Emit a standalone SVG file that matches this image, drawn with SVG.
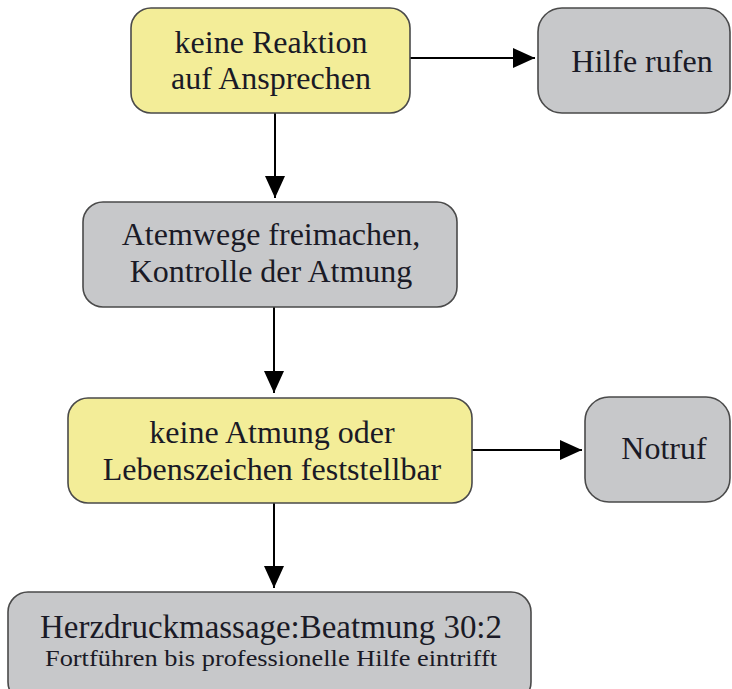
<svg xmlns="http://www.w3.org/2000/svg" width="732" height="689" viewBox="0 0 732 689">
<style>
.box{stroke:#4a4a4a;stroke-width:1.6}
.y{fill:#f3ed98}
.g{fill:#c7c8ca}
.t{font-family:"Liberation Serif","DejaVu Serif",serif;font-size:32px;fill:#1a1a26;text-anchor:middle}
.c{stroke:#000;stroke-width:2;fill:none}
</style>
<defs>
<marker id="ah" viewBox="0 0 22 20" refX="22" refY="10" markerWidth="22" markerHeight="20" markerUnits="userSpaceOnUse" orient="auto">
<path d="M0,0 L22,10 L0,20 Z" fill="#000"/>
</marker>
</defs>
<rect width="732" height="689" fill="#fff"/>
<g id="connectors">
<line class="c" x1="410" y1="58" x2="535" y2="58" marker-end="url(#ah)"/>
<line class="c" x1="275" y1="113" x2="275" y2="198" marker-end="url(#ah)"/>
<line class="c" x1="274" y1="307" x2="274" y2="393" marker-end="url(#ah)"/>
<line class="c" x1="472" y1="450" x2="582" y2="450" marker-end="url(#ah)"/>
<line class="c" x1="274" y1="503" x2="274" y2="588" marker-end="url(#ah)"/>
</g>
<g id="node-reaktion">
<rect class="box y" x="131" y="8" width="279" height="105" rx="20"/>
<text class="t" x="271" y="53">keine Reaktion</text>
<text class="t" x="271" y="89">auf Ansprechen</text>
</g>
<g id="node-hilfe">
<rect class="box g" x="538" y="8" width="192" height="105" rx="24"/>
<text class="t" x="642" y="72">Hilfe rufen</text>
</g>
<g id="node-atemwege">
<rect class="box g" x="83" y="202" width="374" height="105" rx="20"/>
<text class="t" x="271" y="245">Atemwege freimachen,</text>
<text class="t" x="271" y="282">Kontrolle der Atmung</text>
</g>
<g id="node-atmung">
<rect class="box y" x="68" y="398" width="404" height="105" rx="20"/>
<text class="t" x="272" y="443">keine Atmung oder</text>
<text class="t" x="272" y="480">Lebenszeichen feststellbar</text>
</g>
<g id="node-notruf">
<rect class="box g" x="585" y="397" width="145" height="105" rx="24"/>
<text class="t" x="664" y="459">Notruf</text>
</g>
<g id="node-hdm">
<rect class="box g" x="8" y="592" width="523" height="110" rx="20"/>
<text class="t" x="271" y="638" style="font-size:33px" textLength="462" lengthAdjust="spacingAndGlyphs">Herzdruckmassage:Beatmung 30:2</text>
<text class="t" x="271" y="666" style="font-size:23px" textLength="452" lengthAdjust="spacingAndGlyphs">Fortführen bis professionelle Hilfe eintrifft</text>
</g>
</svg>
